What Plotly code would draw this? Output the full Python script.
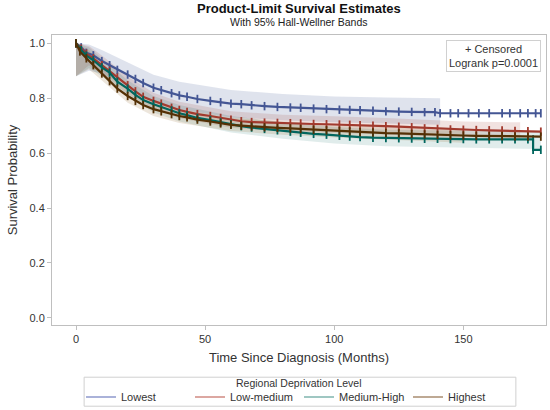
import plotly.graph_objects as go

# Kaplan-Meier estimates (months, survival probability)
groups = ['Lowest', 'Low-medium', 'Medium-High', 'Highest']
colors = ['#445694', '#A23A2E', '#01665E', '#543005']
bandColors = ['rgba(68,86,148,0.17)', 'rgba(162,58,46,0.15)',
              'rgba(1,102,94,0.12)', 'rgba(140,100,40,0.16)']
legendColors = ['#8E99CC', '#D08A82', '#7FB5AE', '#A88D70']

timesLowest = [0, 2, 4, 6.7, 10, 13, 16, 20, 23, 26, 30, 33, 37, 40, 43, 47, 52, 56, 60, 64,
               68, 73, 78, 83, 87, 92, 97, 102, 106, 110, 115, 120, 125, 130, 135, 139, 141,
               145, 148, 152, 156, 160, 165, 168, 172, 175, 178, 180]
survLowest = [1.0, 0.985, 0.965, 0.956, 0.935, 0.92, 0.903, 0.886, 0.87, 0.855, 0.838, 0.829,
              0.818, 0.81, 0.805, 0.797, 0.79, 0.785, 0.78, 0.778, 0.774, 0.771, 0.768, 0.766,
              0.765, 0.762, 0.76, 0.758, 0.757, 0.756, 0.754, 0.752, 0.751, 0.75, 0.749, 0.749,
              0.745, 0.745, 0.745, 0.745, 0.745, 0.745, 0.745, 0.745, 0.745, 0.745, 0.745, 0.745]

timesLowMed = [0, 2, 4, 6.7, 10, 13, 16, 20, 23, 26, 30, 33, 37, 40, 43, 47, 52, 56, 60, 64,
               68, 73, 78, 83, 87, 92, 97, 102, 106, 110, 115, 120, 125, 130, 135, 140, 145,
               150, 155, 160, 165, 170, 175, 180]
survLowMed = [1.0, 0.98, 0.962, 0.945, 0.92, 0.9, 0.875, 0.847, 0.825, 0.805, 0.79, 0.78,
              0.765, 0.757, 0.75, 0.742, 0.735, 0.728, 0.722, 0.716, 0.713, 0.711, 0.71, 0.709,
              0.708, 0.706, 0.705, 0.704, 0.703, 0.702, 0.7, 0.698, 0.696, 0.694, 0.69, 0.688,
              0.686, 0.685, 0.684, 0.683, 0.682, 0.681, 0.68, 0.678]

timesMedHigh = [0, 2, 4, 6.7, 10, 13, 16, 20, 23, 26, 30, 33, 37, 40, 43, 47, 52, 56, 60, 64,
                68, 73, 78, 83, 87, 92, 97, 102, 106, 110, 115, 120, 125, 130, 135, 140, 145,
                150, 155, 160, 165, 170, 175, 177, 177, 180]
survMedHigh = [1.0, 0.975, 0.955, 0.938, 0.912, 0.893, 0.86, 0.835, 0.812, 0.793, 0.778, 0.768,
               0.755, 0.745, 0.738, 0.728, 0.72, 0.712, 0.705, 0.698, 0.693, 0.688, 0.683, 0.678,
               0.674, 0.67, 0.667, 0.663, 0.66, 0.658, 0.656, 0.655, 0.654, 0.653, 0.652, 0.652,
               0.651, 0.651, 0.65, 0.65, 0.65, 0.65, 0.65, 0.65, 0.612, 0.612]

timesHighest = [0, 1.5, 4, 6.7, 10, 13, 16, 20, 23, 26, 30, 33, 37, 40, 43, 47, 52, 56, 60, 64,
                68, 73, 78, 83, 87, 92, 97, 102, 106, 110, 115, 120, 125, 130, 135, 140, 145,
                150, 155, 160, 165, 170, 175, 180]
survHighest = [1.0, 0.97, 0.945, 0.92, 0.89, 0.862, 0.835, 0.808, 0.79, 0.775, 0.76, 0.752,
               0.742, 0.735, 0.73, 0.722, 0.715, 0.708, 0.703, 0.7, 0.697, 0.694, 0.692, 0.69,
               0.688, 0.685, 0.683, 0.681, 0.679, 0.677, 0.675, 0.673, 0.672, 0.67, 0.668, 0.666,
               0.665, 0.664, 0.663, 0.662, 0.662, 0.661, 0.66, 0.66]

# 95% Hall-Wellner bands
bandTimesLowest = [0, 5, 10, 20, 30, 40, 60, 80, 100, 120, 141]
bandLoLowest = [0.88, 0.9, 0.89, 0.84, 0.79, 0.76, 0.73, 0.72, 0.712, 0.707, 0.703]
bandHiLowest = [1.0, 0.995, 0.975, 0.93, 0.885, 0.86, 0.83, 0.815, 0.806, 0.802, 0.8]

bandTimesLowMed = [0, 5, 10, 20, 30, 40, 60, 80, 100, 120, 150, 172]
bandLoLowMed = [0.88, 0.92, 0.885, 0.815, 0.76, 0.727, 0.692, 0.68, 0.674, 0.668, 0.657, 0.652]
bandHiLowMed = [1.0, 0.99, 0.955, 0.88, 0.82, 0.787, 0.752, 0.74, 0.734, 0.728, 0.715, 0.712]

bandTimesMedHigh = [0, 5, 10, 20, 30, 40, 60, 80, 100, 120, 150, 180]
bandLoMedHigh = [0.88, 0.91, 0.88, 0.805, 0.748, 0.715, 0.675, 0.652, 0.635, 0.625, 0.62, 0.615]
bandHiMedHigh = [1.0, 0.985, 0.945, 0.865, 0.808, 0.775, 0.735, 0.712, 0.695, 0.685, 0.682, 0.68]

bandTimesHighest = [0, 5, 10, 20, 30, 40, 60, 80, 100, 120, 150]
bandLoHighest = [0.88, 0.905, 0.865, 0.783, 0.735, 0.71, 0.68, 0.667, 0.657, 0.648, 0.638]
bandHiHighest = [1.0, 0.975, 0.915, 0.833, 0.785, 0.76, 0.728, 0.715, 0.705, 0.698, 0.69]

curves = [(timesLowest, survLowest), (timesLowMed, survLowMed),
          (timesMedHigh, survMedHigh), (timesHighest, survHighest)]
bands = [(bandTimesLowest, bandLoLowest, bandHiLowest),
         (bandTimesLowMed, bandLoLowMed, bandHiLowMed),
         (bandTimesMedHigh, bandLoMedHigh, bandHiMedHigh),
         (bandTimesHighest, bandLoHighest, bandHiHighest)]

font = 'Liberation Sans, Arial, sans-serif'
fig = go.Figure()

# bands
for (bt, lo, hi), bc in zip(bands, bandColors):
    fig.add_trace(go.Scatter(x=bt + bt[::-1], y=hi + lo[::-1], fill='toself',
                             fillcolor=bc, line=dict(width=0), mode='lines',
                             showlegend=False, hoverinfo='skip'))

# survival curves with censor marks
for (t, s), c in zip(curves, colors):
    fig.add_trace(go.Scatter(x=t, y=s, mode='lines+markers', line=dict(color=c, width=2.2),
                             marker=dict(symbol='line-ns', size=6, line=dict(color=c, width=1.8)),
                             showlegend=False))

# legend entries
for g, lc in zip(groups, legendColors):
    fig.add_trace(go.Scatter(x=[None], y=[None], mode='lines', name=g,
                             line=dict(color=lc, width=1.5)))

fig.update_layout(
    width=550, height=410,
    margin=dict(l=52, r=4, t=35, b=85, autoexpand=False),
    paper_bgcolor='white', plot_bgcolor='white',
    font=dict(family=font, size=11, color='#333333'),
    legend=dict(orientation='h', x=0.5, xanchor='center', yref='container', y=0.032,
                yanchor='middle', bgcolor='rgba(0,0,0,0)', borderwidth=0, font=dict(size=11),
                tracegroupgap=0, entrywidth=64, entrywidthmode='pixels'),
    # frame around legend + its title (SAS style)
    shapes=[dict(type='rect', xref='paper', yref='paper', x0=0.065, x1=0.939,
                 y0=-0.28, y1=-0.18, line=dict(color='#D0D0D0', width=1),
                 fillcolor='rgba(0,0,0,0)')],
    annotations=[
        dict(text='<b>Product-Limit Survival Estimates</b>', xref='paper', yref='paper',
             x=0.5, y=1.09, xanchor='center', yanchor='middle', showarrow=False,
             font=dict(size=13, color='#111111')),
        dict(text='With 95% Hall-Wellner Bands', xref='paper', yref='paper',
             x=0.5, y=1.045, xanchor='center', yanchor='middle', showarrow=False,
             font=dict(size=10.5, color='#222222')),
        dict(text='Regional Deprivation Level', xref='paper', yref='paper',
             x=0.5, y=-0.2, xanchor='center', yanchor='middle', showarrow=False,
             font=dict(size=10.5, color='#333333')),
        dict(text='+ Censored<br>Logrank p=0.0001', xref='paper', yref='paper',
             x=0.99, y=0.983, xanchor='right', yanchor='top', showarrow=False,
             align='center', bordercolor='#D0D0D0', borderwidth=1, borderpad=2,
             bgcolor='white', font=dict(size=11, color='#333333'))],
)
fig.update_xaxes(range=[-9.3, 182], tickvals=[0, 50, 100, 150], showline=True, mirror=True,
                 linecolor='#BFBFBF', ticks='outside', ticklen=4, tickcolor='#BFBFBF',
                 showgrid=False, zeroline=False, automargin=False,
                 title=dict(text='Time Since Diagnosis (Months)', standoff=8))
fig.update_yaxes(range=[-0.026, 1.03], tickvals=[0, 0.2, 0.4, 0.6, 0.8, 1.0], tickformat='.1f',
                 showline=True, mirror=True, linecolor='#BFBFBF', ticks='outside', ticklen=4,
                 tickcolor='#BFBFBF', showgrid=False, zeroline=False, automargin=False,
                 title=dict(text='Survival Probability', standoff=8))

# drop the browser's default page margin so the figure sits at the window corner
fig.write_html('out.html', config={'displayModeBar': False},
               post_script="document.body.style.margin='0';")
